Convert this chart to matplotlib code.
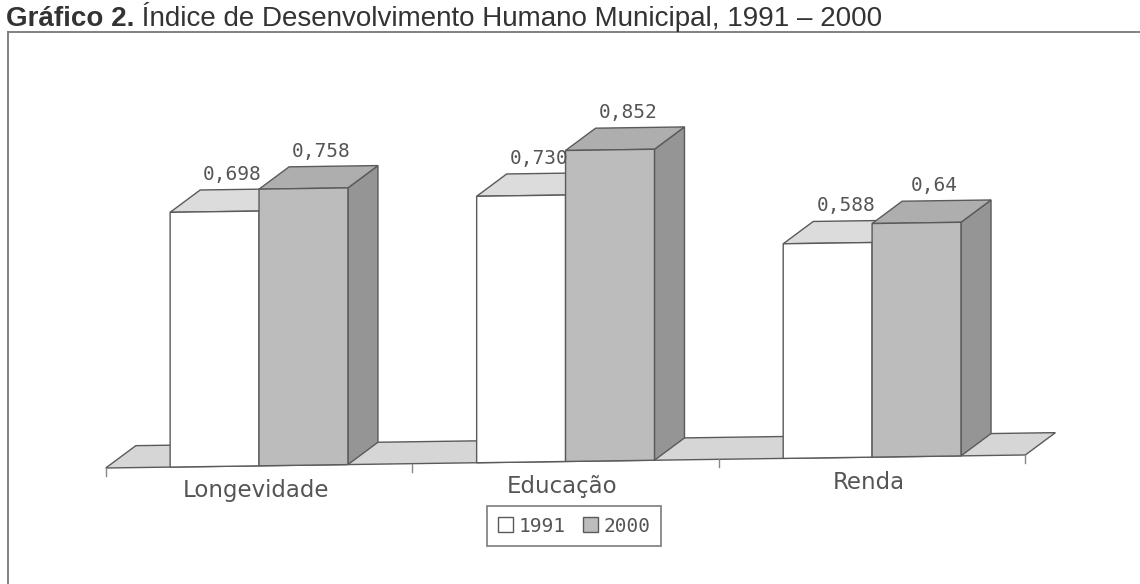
import matplotlib
matplotlib.use("Agg")
import matplotlib.pyplot as plt
from matplotlib.patches import Polygon, Patch
from matplotlib.lines import Line2D
from matplotlib.transforms import Affine2D

# ---- data -------------------------------------------------------------
categories = ["Longevidade", "Educação", "Renda"]
years = ["1991", "2000"]
idh_1991 = [0.698, 0.730, 0.588]
idh_2000 = [0.758, 0.852, 0.64]
labels_1991 = ["0,698", "0,730", "0,588"]
labels_2000 = ["0,758", "0,852", "0,64"]
title_bold = "Gráfico 2."
title_rest = " Índice de Desenvolvimento Humano Municipal, 1991 – 2000"

# ---- style ------------------------------------------------------------
EDGE = "#5a5a5a"
TXT = "#555555"
FLOOR = "#d6d6d6"
C91_FRONT, C91_TOP = "#ffffff", "#dcdcdc"
C00_FRONT, C00_TOP, C00_SIDE = "#bcbcbc", "#aeaeae", "#959595"

W, H = 1140, 584
fig = plt.figure(figsize=(W / 100, H / 100), dpi=100)
ax = fig.add_axes([0, 0, 1, 1])
ax.set_xlim(-0.845, 2.874)
ax.set_ylim(-0.3178, 1.2822)
ax.axis("off")

# pseudo-3D geometry (depth offset, bar width, slight floor tilt)
DX, DY = 0.098, 0.060
BW = 0.29
K = 0.0119
tr = Affine2D.from_values(1, K, 0, 1, 0, 0.5 * K) + ax.transData


def face(pts, color, z):
    ax.add_patch(Polygon(pts, closed=True, facecolor=color, edgecolor=EDGE,
                         linewidth=1.0, transform=tr, zorder=z,
                         joinstyle="miter"))


# floor slab
n = len(categories)
x0, x1 = -0.5, n - 0.5
face([(x0, 0), (x1, 0), (x1 + DX, DY), (x0 + DX, DY)], FLOOR, 1)
for xt in [x0 + i for i in range(n + 1)]:
    ax.plot([xt, xt], [0, -0.022], color="#888888", lw=1.0,
            transform=tr, zorder=1)

# bars
for i, (v91, v00) in enumerate(zip(idh_1991, idh_2000)):
    # 1991 bar (left)
    a, b = i - BW, i
    face([(a, v91), (b, v91), (b + DX, v91 + DY), (a + DX, v91 + DY)],
         C91_TOP, 2)
    face([(a, 0), (b, 0), (b, v91), (a, v91)], C91_FRONT, 2)
    ax.text((a + b) / 2 + 0.6 * DX, v91 + DY + 0.016, labels_1991[i],
            ha="center", va="bottom", fontsize=14, color=TXT,
            family="DejaVu Sans Mono", transform=tr, zorder=5)

    # 2000 bar (right)
    a, b = i, i + BW
    face([(b, 0), (b + DX, DY), (b + DX, v00 + DY), (b, v00)], C00_SIDE, 3)
    face([(a, v00), (b, v00), (b + DX, v00 + DY), (a + DX, v00 + DY)],
         C00_TOP, 3)
    face([(a, 0), (b, 0), (b, v00), (a, v00)], C00_FRONT, 3)
    ax.text((a + b) / 2 + 0.6 * DX, v00 + DY + 0.016, labels_2000[i],
            ha="center", va="bottom", fontsize=14, color=TXT,
            family="DejaVu Sans Mono", transform=tr, zorder=5)

    ax.text(i - 0.01, -0.068, categories[i], ha="center", va="center",
            fontsize=16.5, color=TXT, family="DejaVu Sans",
            transform=tr, zorder=5)

# legend
handles = [Patch(facecolor=C91_FRONT, edgecolor=EDGE, label=years[0]),
           Patch(facecolor=C00_FRONT, edgecolor=EDGE, label=years[1])]
leg = fig.legend(handles=handles, loc="center", ncol=2,
                 bbox_to_anchor=(574 / W, 1 - 526 / H),
                 frameon=True, fancybox=False, handlelength=0.8,
                 handleheight=0.8, handletextpad=0.25, columnspacing=0.9,
                 borderpad=0.55,
                 prop={"family": "DejaVu Sans Mono", "size": 14})
leg.get_frame().set_edgecolor(EDGE)
leg.get_frame().set_linewidth(1.2)
for t in leg.get_texts():
    t.set_color(TXT)

# outer frame (top and left edges)
ytop = 1 - 32 / H
xl = 8 / W
fig.add_artist(Line2D([xl, 1], [ytop, ytop], color="#777777", lw=1.3,
                      transform=fig.transFigure))
fig.add_artist(Line2D([xl, xl], [0, ytop], color="#777777", lw=1.3,
                      transform=fig.transFigure))

# title: bold lead followed by regular text on the same baseline
ty = 1 - 26 / H
t1 = fig.text(6 / W, ty, title_bold, fontsize=20, fontweight="bold",
              family="Liberation Sans", va="baseline", ha="left",
              color="#333333")
fig.canvas.draw()
bb = t1.get_window_extent(renderer=fig.canvas.get_renderer())
fig.text(bb.x1 / W, ty, title_rest, fontsize=20, family="Liberation Sans",
         va="baseline", ha="left", color="#333333")

fig.savefig("out.png", dpi=100, facecolor="white")
